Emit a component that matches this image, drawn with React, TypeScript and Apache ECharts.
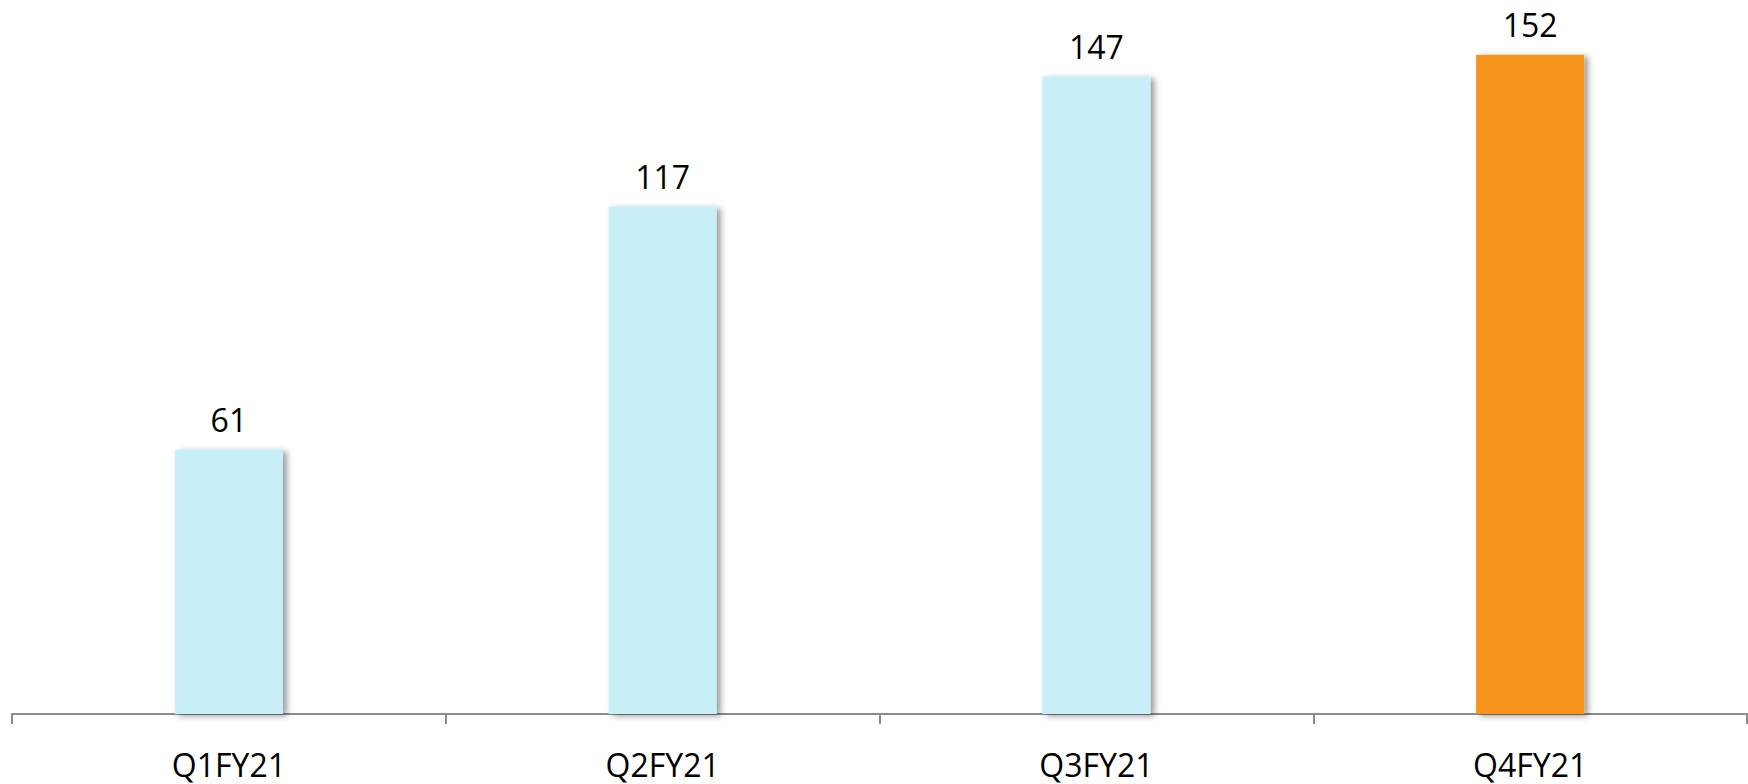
import React, { useEffect, useRef } from "react";
import * as echarts from "echarts";

const categories = ["Q1FY21", "Q2FY21", "Q3FY21", "Q4FY21"];
const values = [61, 117, 147, 152];
const barColors = ["#C8EEF7", "#C8EEF7", "#C8EEF7", "#F7941D"];

export default function App() {
  const ref = useRef<HTMLDivElement>(null);
  useEffect(() => {
    if (!ref.current) return;
    const chart = echarts.init(ref.current, null, { renderer: "svg" });
    chart.setOption({
      animation: false,
      backgroundColor: "#ffffff",
      grid: { left: 12, right: 1, top: 20, bottom: 70, containLabel: false },
      xAxis: {
        type: "category",
        data: categories,
        axisLine: { lineStyle: { color: "#8c8c8c", width: 2 } },
        axisTick: { show: true, length: 10, lineStyle: { color: "#8c8c8c", width: 2 } },
        axisLabel: {
          margin: 34,
          color: "#000000",
          fontFamily: "Open Sans",
          fontSize: 32,
        },
      },
      yAxis: {
        type: "value",
        min: 0,
        max: 160,
        show: false,
        splitLine: { show: false },
      },
      series: [
        {
          type: "bar",
          barWidth: 108,
          data: values.map((v, i) => ({
            value: v,
            itemStyle: {
              color: barColors[i],
              shadowColor: "rgba(0,0,0,0.4)",
              shadowBlur: 6,
              shadowOffsetX: 4,
              shadowOffsetY: 2,
            },
          })),
          label: {
            show: true,
            position: "top",
            distance: 14,
            color: "#000000",
            fontFamily: "Open Sans",
            fontSize: 32,
          },
        },
      ],
    });
    return () => chart.dispose();
  }, []);
  return (
    <div
      ref={ref}
      style={{ position: "fixed", left: 0, top: 0, width: 1748, height: 784 }}
    />
  );
}
